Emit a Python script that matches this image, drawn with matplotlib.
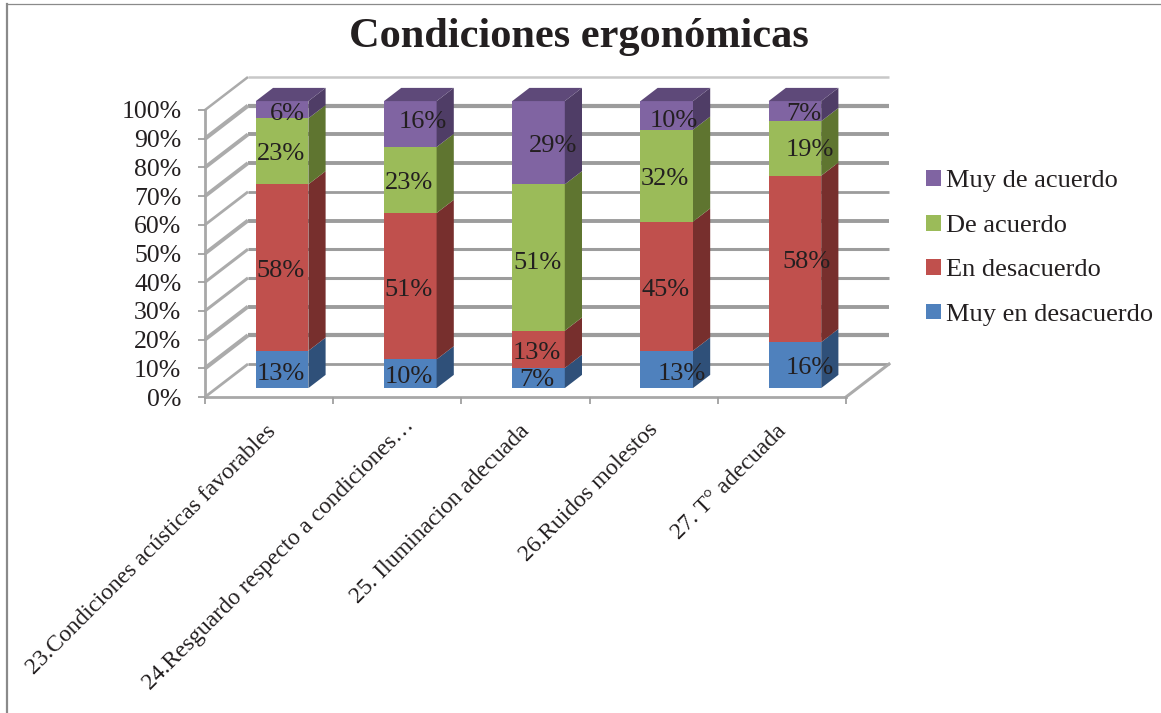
import matplotlib
matplotlib.use('Agg')
import matplotlib.pyplot as plt
from matplotlib.lines import Line2D
from matplotlib.patches import Patch, Polygon
from matplotlib.transforms import Affine2D

plt.rcParams['font.family'] = ['Liberation Serif', 'DejaVu Serif']

categories = ['23.Condiciones acústicas favorables',
              '24.Resguardo respecto a condiciones…',
              '25. Iluminacion adecuada',
              '26.Ruidos molestos',
              '27. T° adecuada']
series_names = ['Muy en desacuerdo', 'En desacuerdo', 'De acuerdo', 'Muy de acuerdo']
muy_desacuerdo = [13, 10, 7, 13, 16]
desacuerdo = [58, 51, 13, 45, 58]
de_acuerdo = [23, 23, 51, 32, 19]
muy_acuerdo = [6, 16, 29, 10, 7]
y_ticks = list(range(0, 101, 10))

series = [muy_desacuerdo, desacuerdo, de_acuerdo, muy_acuerdo]
front_cols = ['#4F81BD', '#C0504D', '#9BBB59', '#8064A2']
side_cols = ['#2F5079', '#772F2D', '#5F7530', '#4F3D66']
top_col = '#5E4979'
text_col = '#231F20'
grid_col = '#9C9C9C'

W, H = 1161, 713
X0, X1, Y0, Y1 = 205, 846, 397, 110   # front plane of the plot box, in pixels
n = len(categories)

# depth of the box, expressed in data units
DX = 43 / ((X1 - X0) / n)
DY = 33 / ((Y0 - Y1) / 100)
BAR_W = 0.41
BAR_SHIFT = 0.011
D_FRONT, D_BACK = 0.27, 0.67


def proj(x, y, d):
    return x + d * DX, y + d * DY


fig = plt.figure(figsize=(W / 100, H / 100), dpi=100, facecolor='white')
ax = fig.add_axes([X0 / W, 1 - Y0 / H, (X1 - X0) / W, (Y0 - Y1) / H])
ax.set_xlim(0, n)
ax.set_ylim(0, 100)
ax.patch.set_alpha(0)

# walls: back grid, left side diagonals, floor edge
grid_w = [2.0, 3.0, 2.8, 2.2, 2.2, 2.8, 2.0, 2.8, 2.8, 3.0, 1.8]
for v, lw in zip(y_ticks, grid_w):
    x_a, y_a = proj(0, v, 1)
    x_b, y_b = proj(n, v, 1)
    c = '#C8C8C8' if v == 100 else grid_col
    ax.plot([x_a, x_b], [y_a, y_b], color=c, lw=lw, clip_on=False, zorder=1, solid_capstyle='butt')
    ax.plot([0, x_a], [v, y_a], color='#ABABAB', lw=lw, clip_on=False, zorder=1, solid_capstyle='butt')
xr, yr = proj(n, 0, 1)
ax.plot([n, xr], [0, yr], color='#ABABAB', lw=2.2, clip_on=False, zorder=1)

# stacked 3d columns
for i in range(n):
    cx = i + 0.5 + BAR_SHIFT
    bottom = 0
    for s, vals in enumerate(series):
        top = bottom + vals[i]
        xa, ya = proj(cx - BAR_W / 2, bottom, D_FRONT)
        ax.bar(xa, top - bottom, BAR_W, bottom=ya, align='edge', color=front_cols[s],
               clip_on=False, zorder=3)
        side = [proj(cx + BAR_W / 2, bottom, D_FRONT), proj(cx + BAR_W / 2, bottom, D_BACK),
                proj(cx + BAR_W / 2, top, D_BACK), proj(cx + BAR_W / 2, top, D_FRONT)]
        ax.add_patch(Polygon(side, closed=True, fc=side_cols[s], ec='none', clip_on=False, zorder=3))
        bottom = top
    roof = [proj(cx - BAR_W / 2, bottom, D_FRONT), proj(cx + BAR_W / 2, bottom, D_FRONT),
            proj(cx + BAR_W / 2, bottom, D_BACK), proj(cx - BAR_W / 2, bottom, D_BACK)]
    ax.add_patch(Polygon(roof, closed=True, fc=top_col, ec='none', clip_on=False, zorder=3))

# value labels sit off-centre on some segments, (dx, dy) in pixels per bar and series
label_off = [[(0, -5), (0, -3), (0, -3), (7, -4)],
             [(0, -3), (0, -4), (0, -3), (14, 2)],
             [(0, -2), (0, -4), (0, -5), (16, -3)],
             [(16, -5), (0, -4), (0, -3), (8, -6)],
             [(16, -3), (13, -3), (16, -2), (10, -3)]]
for i in range(n):
    bottom = 0
    for s, vals in enumerate(series):
        x_t, y_t = proj(i + 0.5, bottom + vals[i] / 2, D_FRONT)
        ax.annotate(f'{vals[i]}%', (x_t, y_t), xytext=label_off[i][s], textcoords='offset pixels',
                    ha='center', va='center', fontsize=19, color=text_col, zorder=5,
                    annotation_clip=False)
        bottom += vals[i]

# axes, ticks and tick labels
for side in ['top', 'right']:
    ax.spines[side].set_visible(False)
for side in ['left', 'bottom']:
    ax.spines[side].set_color('#A8A8A8')
    ax.spines[side].set_linewidth(2.0)
ax.set_yticks(y_ticks)
ax.set_yticklabels([f'{v}%' for v in y_ticks], fontsize=18.5, color=text_col)
ax.set_xticks(range(n + 1))
ax.set_xticklabels([])
ax.set_xticks([i + 0.5 for i in range(n)], minor=True)
ax.set_xticklabels(categories, minor=True, rotation=45, ha='right', va='top',
                   rotation_mode='anchor', fontsize=17, color=text_col)
ax.tick_params(axis='x', which='major', length=5, width=1.3, color='#A0A0A0')
ax.tick_params(axis='y', which='major', length=5, width=1.3, color='#A0A0A0', pad=12)
ax.tick_params(axis='x', which='minor', length=0, pad=17)
ax.set_axisbelow(False)

# nudge the slanted category labels, in pixels
nudge = [(-4, 0), (6, 6), (-7, 0), (-6, 2), (-6, 0)]
for lab, (dx, dy) in zip(ax.get_xticklabels(minor=True), nudge):
    lab.set_transform(lab.get_transform() + Affine2D().translate(dx, dy))

fig.text(579 / W, 1 - 37 / H, 'Condiciones ergonómicas', ha='center', va='center',
         fontsize=30.5, fontweight='bold', color=text_col)

handles = [Patch(fc=c, ec='none', label=name) for c, name in zip(front_cols, series_names)][::-1]
fig.legend(handles=handles, loc='center left', bbox_to_anchor=(926 / W, 1 - 248 / H),
           frameon=False, fontsize=19, labelcolor=text_col, handlelength=0.55, handleheight=0.55,
           handletextpad=0.2, labelspacing=0.84, borderpad=0, borderaxespad=0)

# outer chart frame, only its top and left edges are visible
fig.add_artist(Line2D([7 / W, 7 / W], [0, 1 - 4 / H], color='#8A8A8A', lw=1.6))
fig.add_artist(Line2D([7 / W, 1], [1 - 4 / H, 1 - 4 / H], color='#8A8A8A', lw=0.9))

fig.savefig('out.png', dpi=100)
